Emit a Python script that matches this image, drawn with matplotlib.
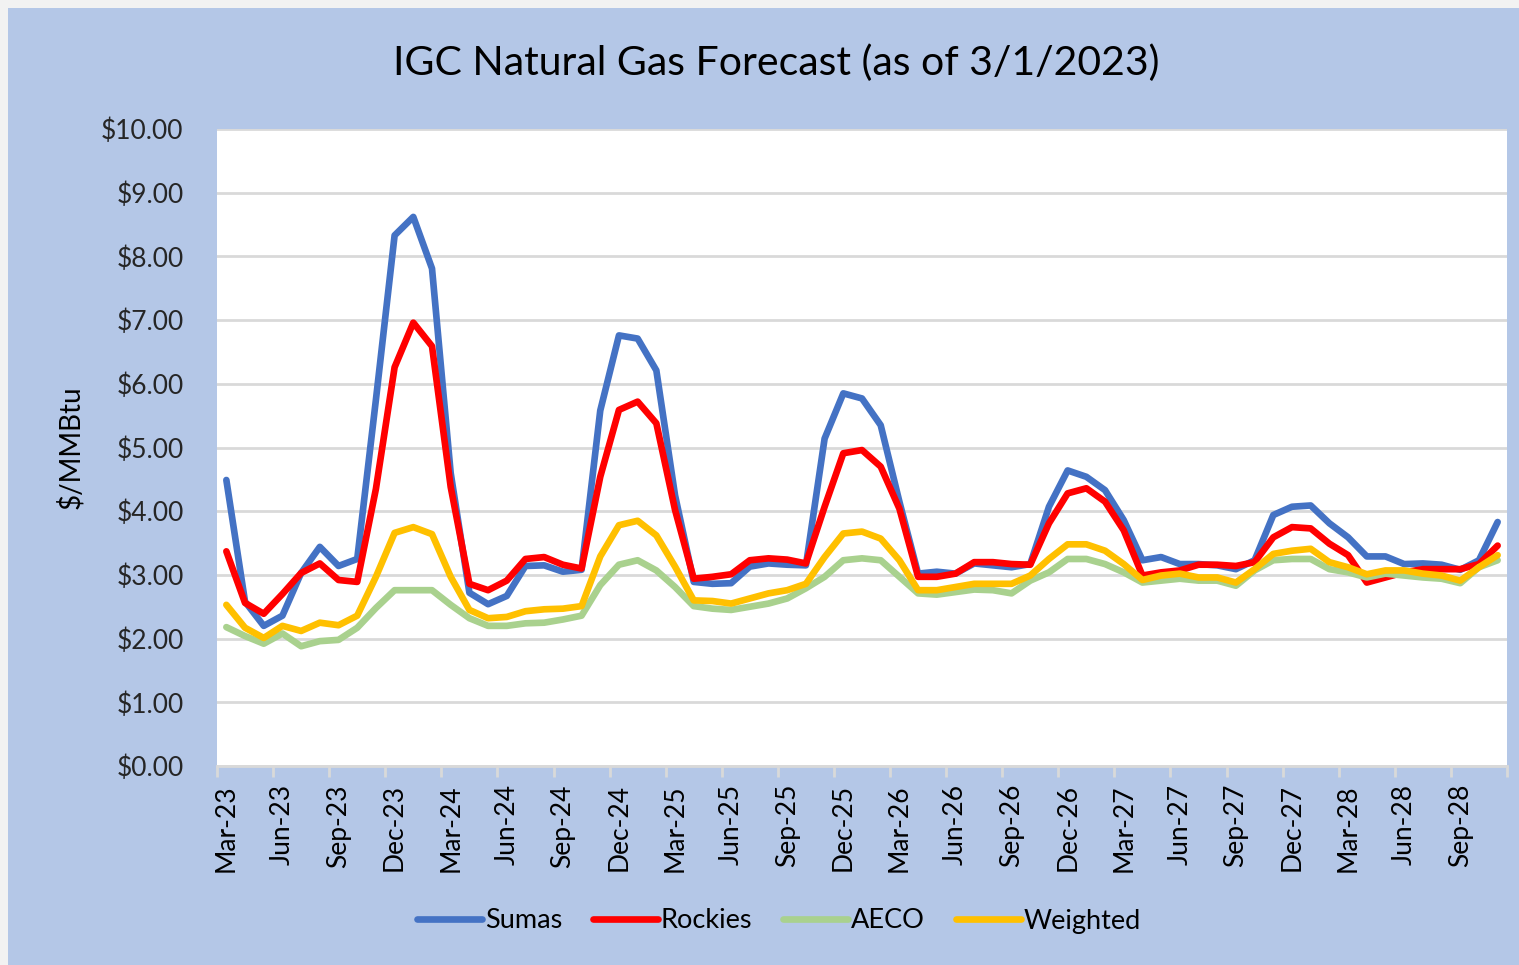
import numpy as np
import pandas as pd
import matplotlib
matplotlib.use("Agg")
import matplotlib.pyplot as plt
from matplotlib.patches import Rectangle

# Dados
meses = pd.date_range("2023-03-01", periods=69, freq="MS").strftime("%b-%y").tolist()

sumas = [4.49, 2.58, 2.20, 2.36, 3.03, 3.44, 3.14, 3.25, 5.75, 8.33, 8.62, 7.81,
         4.60, 2.72, 2.54, 2.67, 3.14, 3.15, 3.05, 3.08, 5.58, 6.76, 6.71, 6.21,
         4.25, 2.89, 2.86, 2.87, 3.13, 3.18, 3.16, 3.15, 5.14, 5.85, 5.77, 5.35,
         4.15, 3.02, 3.05, 3.02, 3.18, 3.15, 3.12, 3.17, 4.07, 4.64, 4.54, 4.33,
         3.86, 3.23, 3.28, 3.17, 3.17, 3.15, 3.09, 3.23, 3.94, 4.07, 4.09, 3.81,
         3.59, 3.29, 3.29, 3.17, 3.18, 3.16, 3.08, 3.23, 3.83]

rockies = [3.37, 2.56, 2.39, 2.70, 3.03, 3.18, 2.92, 2.89, 4.35, 6.26, 6.96, 6.59,
           4.38, 2.86, 2.76, 2.91, 3.25, 3.28, 3.16, 3.10, 4.54, 5.59, 5.72, 5.38,
           4.02, 2.94, 2.97, 3.01, 3.23, 3.26, 3.24, 3.18, 4.07, 4.91, 4.96, 4.70,
           4.04, 2.97, 2.97, 3.02, 3.20, 3.20, 3.17, 3.16, 3.81, 4.28, 4.36, 4.15,
           3.70, 2.99, 3.04, 3.07, 3.16, 3.16, 3.14, 3.20, 3.59, 3.75, 3.73, 3.49,
           3.31, 2.88, 2.96, 3.04, 3.09, 3.09, 3.09, 3.17, 3.46]

aeco = [2.18, 2.04, 1.92, 2.08, 1.88, 1.96, 1.98, 2.17, 2.48, 2.76, 2.76, 2.76,
        2.53, 2.32, 2.20, 2.20, 2.24, 2.25, 2.30, 2.36, 2.84, 3.16, 3.23, 3.07,
        2.81, 2.51, 2.47, 2.45, 2.50, 2.55, 2.63, 2.79, 2.97, 3.23, 3.26, 3.23,
        2.97, 2.71, 2.69, 2.73, 2.77, 2.76, 2.71, 2.91, 3.04, 3.25, 3.25, 3.17,
        3.04, 2.88, 2.91, 2.94, 2.91, 2.91, 2.83, 3.07, 3.23, 3.25, 3.25, 3.09,
        3.04, 2.96, 3.02, 2.99, 2.96, 2.94, 2.87, 3.12, 3.23]

weighted = [2.53, 2.17, 2.01, 2.20, 2.12, 2.25, 2.21, 2.36, 2.97, 3.66, 3.75, 3.64,
            2.97, 2.45, 2.32, 2.34, 2.43, 2.46, 2.47, 2.51, 3.29, 3.78, 3.85, 3.62,
            3.13, 2.60, 2.59, 2.55, 2.63, 2.71, 2.76, 2.86, 3.28, 3.65, 3.68, 3.57,
            3.23, 2.76, 2.76, 2.81, 2.86, 2.86, 2.86, 2.99, 3.25, 3.48, 3.48, 3.38,
            3.17, 2.92, 2.99, 3.02, 2.96, 2.96, 2.88, 3.09, 3.33, 3.38, 3.41, 3.20,
            3.12, 3.01, 3.07, 3.07, 3.02, 2.99, 2.91, 3.12, 3.31]

plt.rcParams['font.family'] = ['Lato', 'DejaVu Sans']

azul_fundo = '#B4C7E7'
cinza = '#D9D9D9'

fig = plt.figure(figsize=(15.19, 9.65), dpi=100)
fig.patch.set_facecolor(azul_fundo)
# borda clara no topo e à esquerda
fig.patches.append(Rectangle((0, 1 - 8 / 965), 1, 8 / 965, transform=fig.transFigure,
                             facecolor='#F2F2F2', edgecolor='none', zorder=0))
fig.patches.append(Rectangle((0, 0), 8 / 1519, 1, transform=fig.transFigure,
                             facecolor='#F2F2F2', edgecolor='none', zorder=0))

ax = fig.add_axes([217 / 1519, 1 - 766 / 965, (1507 - 217) / 1519, (766 - 129) / 965])
ax.set_facecolor('white')

x = np.arange(len(meses))
estilo = dict(lw=4.8, solid_joinstyle='round', solid_capstyle='round')
ax.plot(x, sumas, color='#4472C4', label='Sumas', **estilo)
ax.plot(x, rockies, color='#FF0000', label='Rockies', **estilo)
ax.plot(x, aeco, color='#A9D18E', label='AECO', **estilo)
ax.plot(x, weighted, color='#FFC000', label='Weighted', **estilo)

ax.set_xlim(-0.5, len(meses) - 0.5)
ax.set_ylim(0, 10)

# eixo y
ax.set_yticks(np.arange(0, 11, 1))
ax.set_yticklabels(['${:.2f}'.format(v) for v in range(11)], fontsize=19, color='#262626')
ax.tick_params(axis='y', length=0, pad=24)
ax.grid(axis='y', color=cinza, lw=2.0)
ax.set_axisbelow(True)

# eixo x: rótulos a cada 3 meses, marcas nas divisas
ax.set_xticks(x[::3])
ax.set_xticklabels(meses[::3], rotation=90, fontsize=19, color='black')
ax.set_xticks(np.arange(-0.5, len(meses), 3), minor=True)
ax.tick_params(axis='x', which='major', length=0, pad=13)
ax.tick_params(axis='x', which='minor', length=8, width=2, color=cinza)

for s in ['top', 'right', 'left']:
    ax.spines[s].set_visible(False)
ax.spines['bottom'].set_color(cinza)
ax.spines['bottom'].set_linewidth(2)

fig.text(776 / 1519, 1 - 63 / 965, 'IGC Natural Gas Forecast (as of 3/1/2023)',
         ha='center', va='center', fontsize=29.5, color='black')
fig.text(70 / 1519, 1 - 447 / 965, '$/MMBtu', rotation=90, ha='center', va='center',
         fontsize=20, color='black')

fig.legend(loc='center', bbox_to_anchor=(779 / 1519, 1 - 921 / 965), ncol=4,
           frameon=False, fontsize=19.5, handlelength=2.4, handletextpad=0.1,
           columnspacing=1.15)

fig.savefig('out.png', dpi=100, facecolor=fig.get_facecolor())
